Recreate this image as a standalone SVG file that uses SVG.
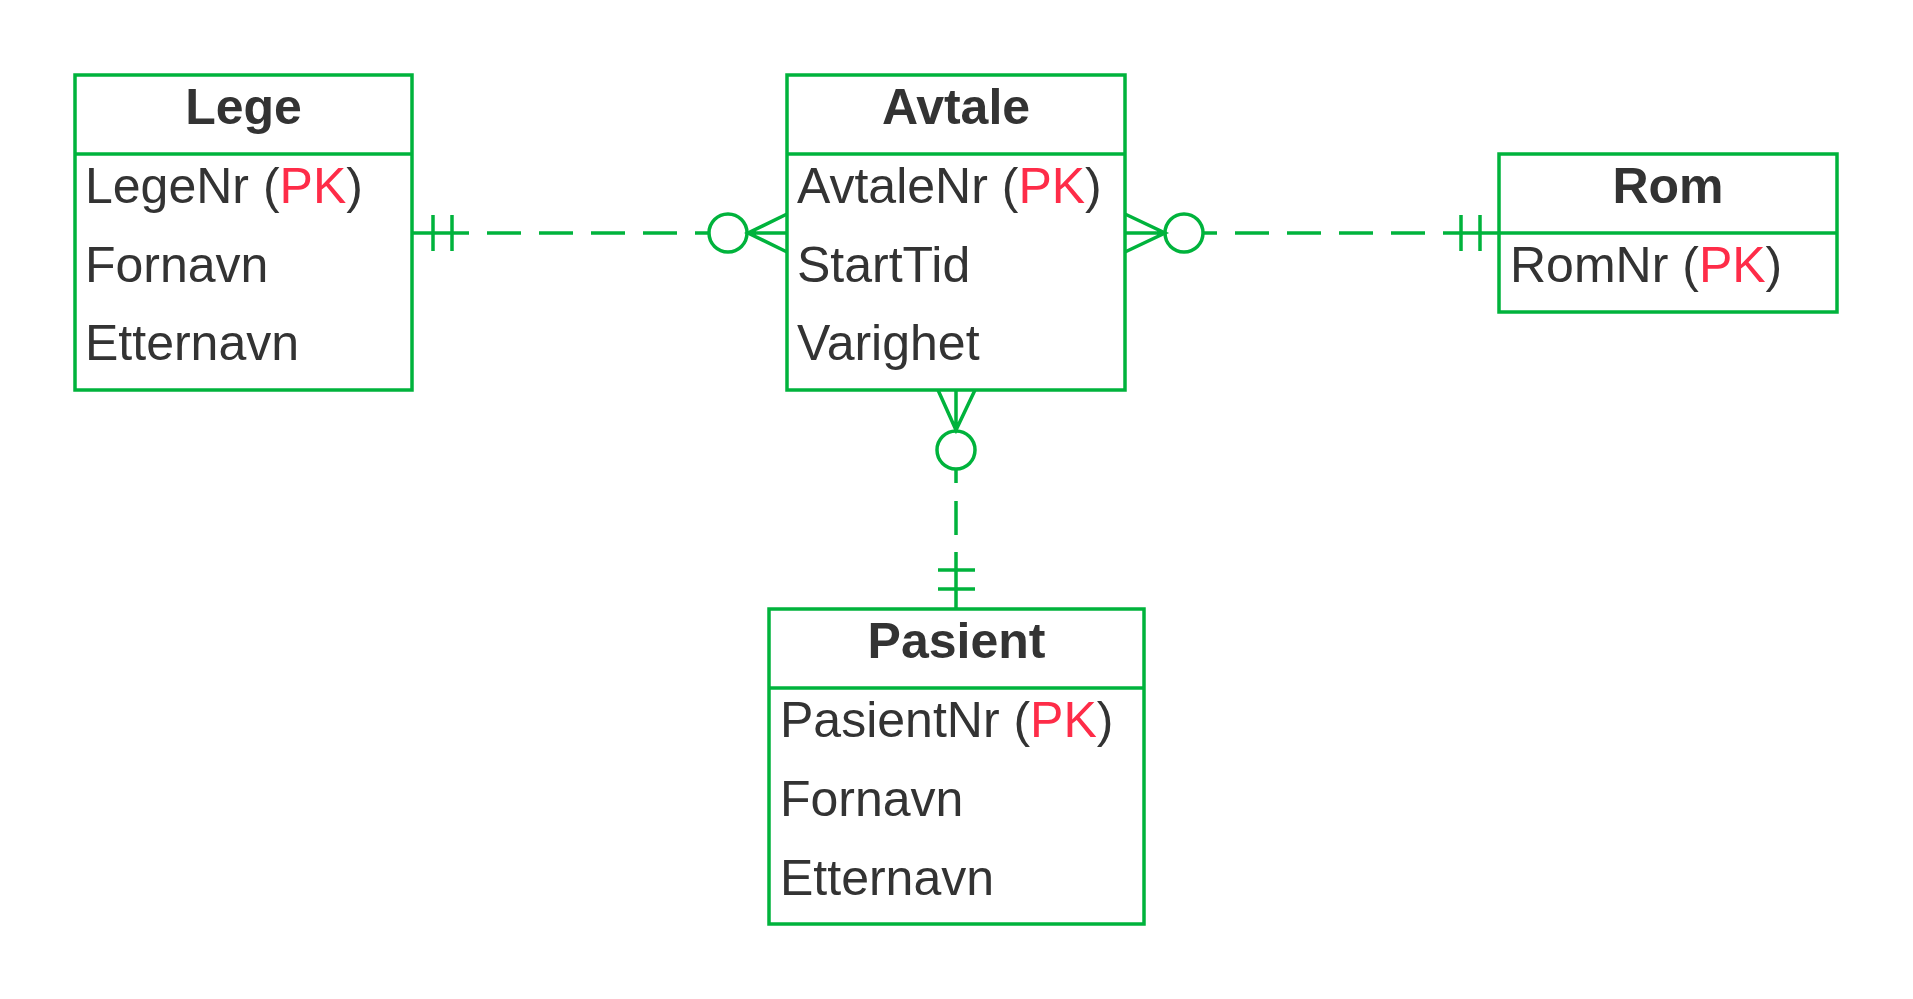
<svg xmlns="http://www.w3.org/2000/svg" width="1913" height="999" viewBox="0 0 1913 999">
<style>
.box{fill:#ffffff;stroke:#00b33c;stroke-width:3.5}
.div{stroke:#00b33c;stroke-width:3.5}
.t{font-family:"Liberation Sans",Arial,sans-serif;font-size:50px;fill:#333333}
.h{font-family:"Liberation Sans",Arial,sans-serif;font-size:50px;font-weight:bold;fill:#333333;text-anchor:middle}
.pk{fill:#fe2c48}
.ln{fill:none;stroke:#00b33c;stroke-width:3.5}
.dash{fill:none;stroke:#00b33c;stroke-width:3.5;stroke-dasharray:34 18;stroke-dashoffset:20}
</style>
<rect width="1913" height="999" fill="#ffffff"/>
<g id="connectors">
  <!-- Lege - Avtale -->
  <path class="ln" d="M412 233H468M433 215V251M452 215V251"/>
  <line class="dash" x1="709" y1="233" x2="468" y2="233"/>
  <circle class="ln" cx="728" cy="233" r="19"/>
  <path class="ln" d="M787 214L748 233L787 252M748 233H787"/>
  <!-- Avtale - Rom -->
  <path class="ln" d="M1125 214L1165 233L1125 252M1125 233H1165"/>
  <circle class="ln" cx="1184" cy="233" r="19"/>
  <line class="dash" x1="1203" y1="233" x2="1443" y2="233"/>
  <path class="ln" d="M1443 233H1499M1461 215V251M1480 215V251"/>
  <!-- Avtale - Pasient -->
  <path class="ln" d="M938 390L956 430L975 390M956 390V430"/>
  <circle class="ln" cx="956" cy="450" r="19"/>
  <line class="dash" x1="956" y1="469" x2="956" y2="552"/>
  <path class="ln" d="M956 552V609M938 570H975M938 589H975"/>
</g>
<g id="Lege">
  <rect class="box" x="75" y="75" width="337" height="315"/>
  <line class="div" x1="75" y1="154" x2="412" y2="154"/>
  <text class="h" x="243.5" y="124">Lege</text>
  <text class="t" x="85" y="203">LegeNr (<tspan class="pk">PK</tspan>)</text>
  <text class="t" x="85" y="282">Fornavn</text>
  <text class="t" x="85" y="360">Etternavn</text>
</g>
<g id="Avtale">
  <rect class="box" x="787" y="75" width="338" height="315"/>
  <line class="div" x1="787" y1="154" x2="1125" y2="154"/>
  <text class="h" x="956" y="124">Avtale</text>
  <text class="t" x="797" y="203">AvtaleNr (<tspan class="pk">PK</tspan>)</text>
  <text class="t" x="797" y="282">StartTid</text>
  <text class="t" x="797" y="360">Varighet</text>
</g>
<g id="Rom">
  <rect class="box" x="1499" y="154" width="338" height="158"/>
  <line class="div" x1="1499" y1="233" x2="1837" y2="233"/>
  <text class="h" x="1668" y="203">Rom</text>
  <text class="t" x="1510" y="282">RomNr (<tspan class="pk">PK</tspan>)</text>
</g>
<g id="Pasient">
  <rect class="box" x="769" y="609" width="375" height="315"/>
  <line class="div" x1="769" y1="688" x2="1144" y2="688"/>
  <text class="h" x="956.5" y="658">Pasient</text>
  <text class="t" x="780" y="737">PasientNr (<tspan class="pk">PK</tspan>)</text>
  <text class="t" x="780" y="816">Fornavn</text>
  <text class="t" x="780" y="895">Etternavn</text>
</g>
</svg>
